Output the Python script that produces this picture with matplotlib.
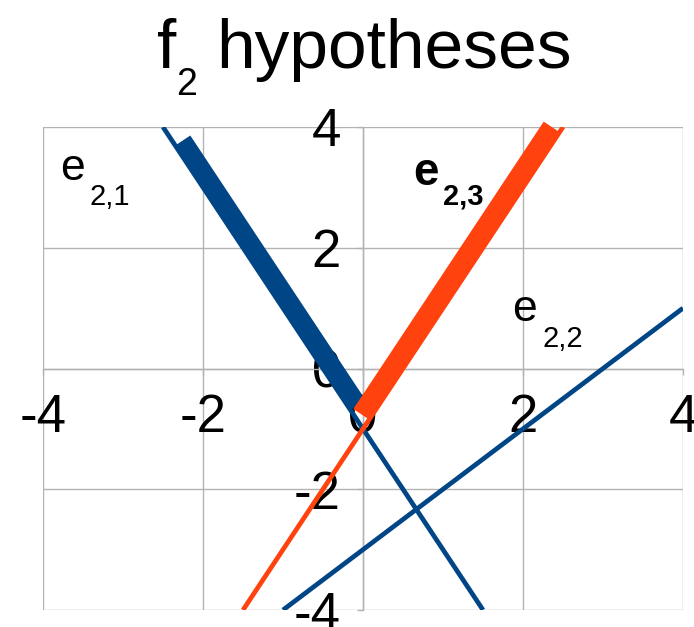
import numpy as np
import matplotlib.pyplot as plt

plt.rcParams['font.family'] = ['Liberation Sans', 'DejaVu Sans']

# hypothesis lines (thin) and highlighted segments (thick)
e21_x = [-2.5, 1.5]
e21_y = [4.0, -4.0]
e22_x = [-1.0, 4.0]
e22_y = [-4.0, 1.0]
e23_x = [-1.5, 2.5]
e23_y = [-4.0, 4.0]
e21_seg_x = [-2.26, -0.07]
e21_seg_y = [3.77, -0.61]
e23_seg_x = [-0.02, 2.36]
e23_seg_y = [-0.76, 4.0]

ticks = [-4, -2, 0, 2, 4]
tick_labels = ['-4', '-2', '0', '2', '4']

blue = '#004586'
orange = '#ff420e'
grey = '#b3b3b3'

fig = plt.figure(figsize=(6.94, 6.27), dpi=100)
ax = fig.add_axes([43/694, 1 - 610/627, 640/694, 483/627])

ax.plot(e21_x, e21_y, color=blue, lw=3.4, solid_capstyle='butt', zorder=3)
ax.plot(e22_x, e22_y, color=blue, lw=3.4, solid_capstyle='butt', zorder=3)
ax.plot(e23_x, e23_y, color=orange, lw=3.4, solid_capstyle='butt', zorder=3)
ax.plot(e21_seg_x, e21_seg_y, color=blue, lw=14, solid_capstyle='butt',
        zorder=4, clip_on=False)
ax.plot(e23_seg_x, e23_seg_y, color=orange, lw=14, solid_capstyle='butt',
        zorder=5, clip_on=False)

ax.set_xlim(-4, 4)
ax.set_ylim(-4, 4)
ax.set_xticks(ticks)
ax.set_yticks(ticks)
ax.set_xticklabels(tick_labels)
ax.set_yticklabels(tick_labels)
ax.grid(True, color=grey, lw=1)

for side in ['top', 'right']:
    ax.spines[side].set_visible(False)
ax.spines['left'].set_position('zero')
ax.spines['bottom'].set_position('zero')
for side in ['left', 'bottom']:
    ax.spines[side].set_color(grey)
    ax.spines[side].set_linewidth(1)

ax.tick_params(axis='both', colors=grey, labelcolor='black', labelsize=38,
               length=4, width=1, direction='out')
ax.tick_params(axis='x', pad=14)
ax.tick_params(axis='y', pad=12)

# series labels
ax.text(-3.78, 3.12, 'e', fontsize=32, va='baseline')
ax.text(-3.42, 2.71, '2,1', fontsize=21, va='baseline')
ax.text(0.63, 3.04, 'e', fontsize=33, fontweight='bold', va='baseline')
ax.text(1.0, 2.71, '2,3', fontsize=21, fontweight='bold', va='baseline')
ax.text(1.86, 0.78, 'e', fontsize=32, va='baseline')
ax.text(2.25, 0.35, '2,2', fontsize=21, va='baseline')

# title with subscript
fig.text(157/694, 1 - 68/627, 'f', fontsize=50, va='baseline')
fig.text(176/694, 1 - 95/627, '2', fontsize=27, va='baseline')
fig.text(216/694, 1 - 68/627, 'hypotheses', fontsize=50, va='baseline')

fig.savefig('out.png', dpi=100)
